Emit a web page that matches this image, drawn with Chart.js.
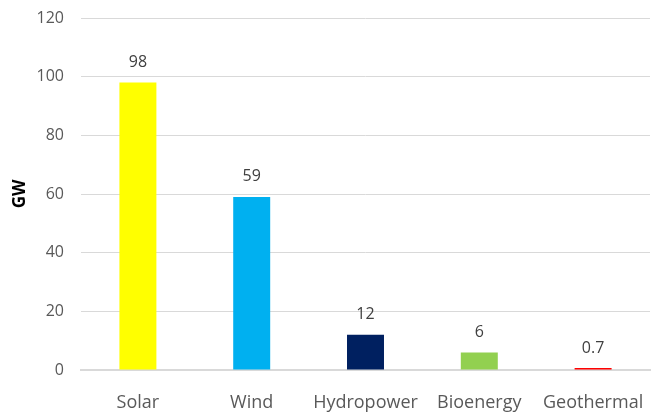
<!DOCTYPE html>
<html>
<head>
<meta charset="utf-8">
<script src="https://cdn.jsdelivr.net/npm/chart.js@4"></script>
<style>
  html, body { margin: 0; padding: 0; background: #fff; }
  #wrap { width: 654px; height: 414px; }
</style>
</head>
<body>
<div id="wrap"><canvas id="chart" width="654" height="414"></canvas></div>
<script>
const categories = ['Solar', 'Wind', 'Hydropower', 'Bioenergy', 'Geothermal'];
const capacity = [98, 59, 12, 6, 0.7];
const barColors = ['#FFFF00', '#00B0F0', '#002060', '#92D050', '#FF0000'];
const yTicks = [0, 20, 40, 60, 80, 100, 120];

// draws the value above each bar
const valueLabels = {
    id: 'valueLabels',
    afterDatasetsDraw(chart) {
        const ctx = chart.ctx;
        const meta = chart.getDatasetMeta(0);
        ctx.save();
        ctx.font = '16px "Open Sans"';
        ctx.fillStyle = '#404040';
        ctx.textAlign = 'center';
        ctx.textBaseline = 'middle';
        meta.data.forEach((bar, i) => {
            ctx.fillText(String(capacity[i]), bar.x, bar.y - 20);
        });
        ctx.restore();
    }
};

const ctx = document.getElementById('chart').getContext('2d');

const dataChart = new Chart(ctx, {
    type: 'bar',
    data: {
        labels: categories,
        datasets: [
            {
                label: 'GW',
                data: capacity,
                backgroundColor: barColors,
                borderWidth: 0,
                barPercentage: 0.65,
                categoryPercentage: 0.5
            }
        ]
    },
    options: {
        responsive: false,
        animation: false,
        layout: {
            padding: { top: 18, right: 4, left: 10, bottom: 0 }
        },
        plugins: {
            legend: { display: false },
            tooltip: { enabled: false }
        },
        scales: {
            x: {
                afterFit(axis) {
                    axis.height = 44;
                    axis.paddingLeft = 0;
                    axis.paddingRight = 0;
                },
                grid: { display: false },
                border: { display: true, color: '#d9d9d9', width: 2 },
                ticks: {
                    color: '#595959',
                    padding: 14,
                    maxRotation: 0,
                    font: { family: 'Open Sans', size: 18 }
                }
            },
            y: {
                min: 0,
                max: 120,
                afterBuildTicks(axis) {
                    axis.ticks = yTicks.map(v => ({ value: v }));
                },
                afterFit(axis) {
                    axis.width = 71;
                    axis.paddingTop = 0;
                    axis.paddingBottom = 0;
                },
                grid: { color: '#d9d9d9', lineWidth: 1, drawTicks: false },
                border: { display: false },
                ticks: {
                    color: '#595959',
                    padding: 17,
                    font: { family: 'Open Sans', size: 16 }
                },
                title: {
                    display: true,
                    text: 'GW',
                    color: '#000000',
                    font: { family: 'Open Sans', size: 17, weight: 'bold' },
                    padding: 0
                }
            }
        }
    },
    plugins: [valueLabels]
});
</script>
</body>
</html>
